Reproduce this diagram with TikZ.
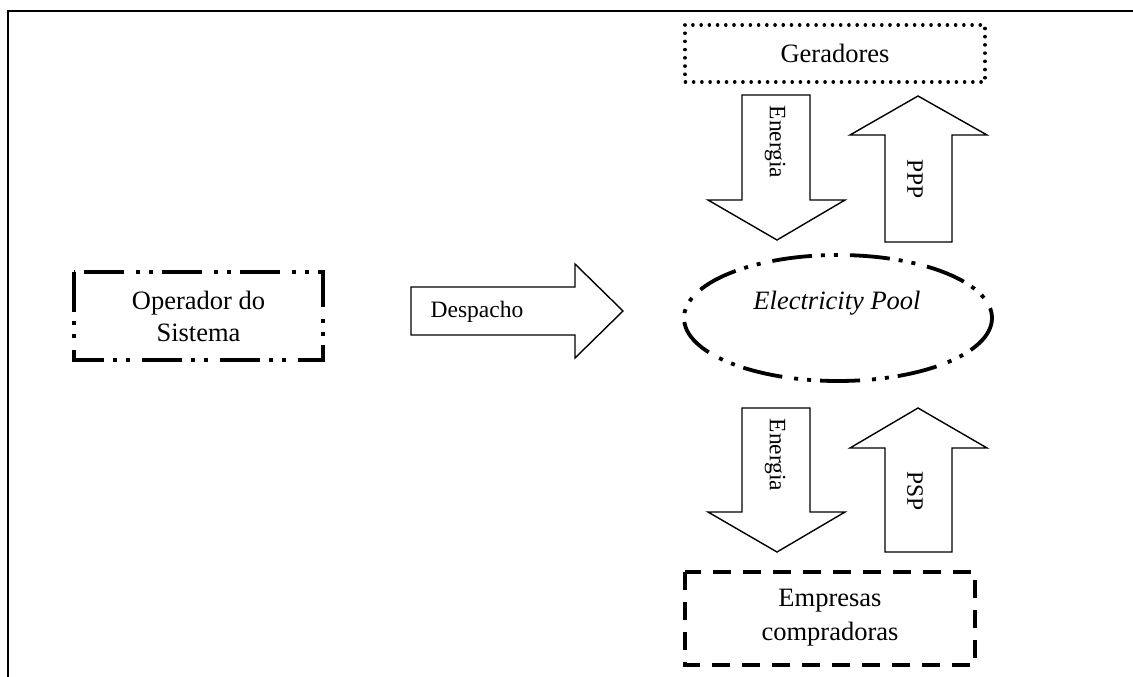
\documentclass[tikz,border=0pt]{standalone}
\usepackage{fontspec}
\setmainfont{Liberation Serif}
\begin{document}
\begin{tikzpicture}[x=1pt,y=-1pt,
  boxtext/.style={font=\fontsize{26.5}{32}\selectfont, align=center, inner sep=0pt},
  arrowtext/.style={font=\fontsize{23.5}{28}\selectfont, inner sep=0pt},
  blockarrow/.style={draw=black, line width=1.4pt, fill=white, line join=miter},
  dashdotdot/.style={line width=3.8pt, dash pattern=on 40pt off 9pt on 4pt off 9pt on 4pt off 12pt},
  dotbox/.style={line width=3.6pt, line cap=round, dash pattern=on 0.01pt off 8.2pt},
  dashbox/.style={line width=3.8pt, dash pattern=on 18pt off 12pt}]
\useasboundingbox (0,0) rectangle (1133,677);

% outer frame (top and left sides only)
\draw[line width=2pt] (8,677) -- (8,11) -- (1133,11);

% participants
\draw[dashdotdot] (74,272) rectangle (323,360);
\node[boxtext] (op) at (198.5,316) {Operador do\\Sistema};

\draw[dotbox] (685,25) rectangle (985,82);
\node[boxtext] (ger) at (835,53) {Geradores};

\draw[dashbox] (685,572) rectangle (975,665);
\node[boxtext, font=\fontsize{26.5}{34}\selectfont] (emp) at (830,618) {Empresas\\compradoras};

\draw[dashdotdot] (838,318) ellipse [x radius=154, y radius=63];
\node[boxtext, font=\fontsize{26.5}{32}\selectfont\itshape] (pool) at (837,303) {Electricity Pool};

% dispatch arrow
\draw[blockarrow] (411,287) -- (575,287) -- (575,264) -- (623,311) -- (575,358) -- (575,335) -- (411,335) -- cycle;
\node[arrowtext] (desp) at (477,312) {Despacho};

% energy from generators to the pool
\draw[blockarrow] (742,95) -- (810,95) -- (810,200) -- (845,200) -- (777,240) -- (708,200) -- (742,200) -- cycle;
\node[arrowtext, rotate=-90] (en1) at (775,142) {Energia};

% payment to generators
\draw[blockarrow] (885,242) -- (885,135) -- (850,135) -- (918,96) -- (987,135) -- (952,135) -- (952,242) -- cycle;
\node[arrowtext, rotate=-90] (ppp) at (915,179) {PPP};

% energy from the pool to buyers
\draw[blockarrow] (742,408) -- (810,408) -- (810,512) -- (845,512) -- (777,552) -- (708,512) -- (742,512) -- cycle;
\node[arrowtext, rotate=-90] (en2) at (775,455) {Energia};

% payment from buyers
\draw[blockarrow] (885,552) -- (885,448) -- (850,448) -- (918,408) -- (987,448) -- (952,448) -- (952,552) -- cycle;
\node[arrowtext, rotate=-90] (psp) at (915,491) {PSP};
\end{tikzpicture}
\end{document}
